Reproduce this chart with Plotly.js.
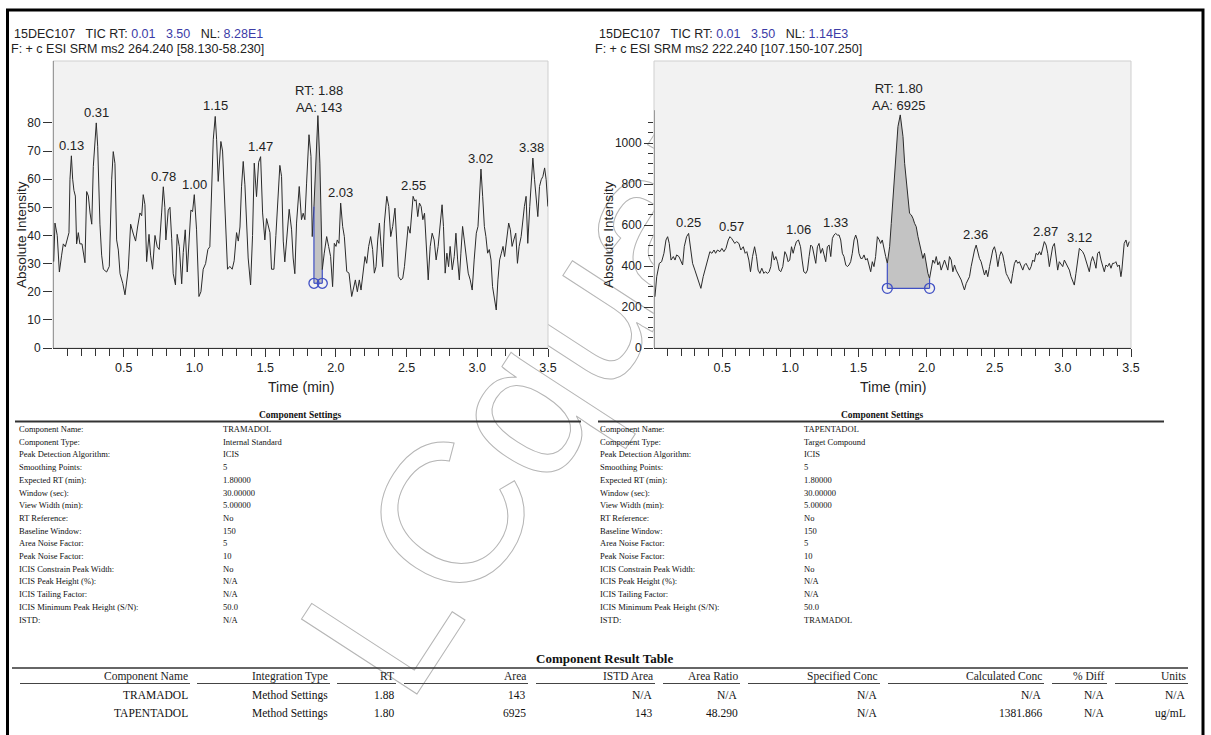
<!DOCTYPE html>
<html>
<head>
<meta charset="utf-8">
<script src="https://cdn.plot.ly/plotly-3.0.1.min.js"></script>
<style>
html,body{margin:0;padding:0;background:#fff;}
#chart{width:1211px;height:735px;}
</style>
</head>
<body>
<div id="chart"></div>
<script>
// ---------------- DATA ----------------
// TRAMADOL chromatogram (SRM 264.240 -> 58.130-58.230)
const tramTime = [0.005,0.014,0.030,0.045,0.061,0.073,0.087,0.101,0.113,0.120,0.130,0.139,0.148,0.158,0.167,0.179,0.190,0.205,0.214,0.226,0.238,0.250,0.262,0.274,0.285,0.295,0.306,0.316,0.332,0.344,0.356,0.379,0.398,0.415,0.426,0.438,0.450,0.462,0.474,0.493,0.509,0.532,0.549,0.568,0.584,0.598,0.615,0.627,0.638,0.650,0.662,0.679,0.690,0.704,0.721,0.737,0.751,0.768,0.780,0.791,0.798,0.815,0.827,0.839,0.850,0.866,0.878,0.893,0.910,0.921,0.935,0.949,0.963,0.975,0.987,0.999,1.015,1.032,1.046,1.062,1.079,1.095,1.109,1.121,1.133,1.147,1.157,1.168,1.180,1.187,1.199,1.211,1.222,1.234,1.250,1.267,1.281,1.298,1.310,1.322,1.333,1.345,1.357,1.369,1.380,1.397,1.411,1.423,1.439,1.454,1.468,1.482,1.498,1.510,1.522,1.534,1.545,1.562,1.576,1.590,1.604,1.616,1.628,1.639,1.656,1.670,1.687,1.698,1.710,1.722,1.741,1.757,1.769,1.781,1.793,1.810,1.824,1.833,1.845,1.860,1.873,1.887,1.904,1.918,1.935,1.949,1.963,1.977,1.989,2.001,2.010,2.022,2.034,2.048,2.060,2.077,2.093,2.112,2.124,2.138,2.152,2.166,2.178,2.192,2.206,2.218,2.232,2.246,2.260,2.272,2.284,2.296,2.308,2.320,2.331,2.343,2.360,2.374,2.388,2.402,2.418,2.430,2.442,2.459,2.473,2.485,2.497,2.511,2.525,2.537,2.546,2.558,2.567,2.579,2.591,2.603,2.615,2.627,2.638,2.653,2.667,2.681,2.695,2.709,2.723,2.737,2.751,2.761,2.773,2.785,2.797,2.808,2.823,2.837,2.849,2.861,2.873,2.884,2.896,2.908,2.922,2.936,2.950,2.964,2.978,2.993,3.005,3.016,3.026,3.038,3.050,3.061,3.073,3.085,3.097,3.108,3.120,3.134,3.146,3.158,3.170,3.182,3.193,3.205,3.222,3.234,3.246,3.258,3.272,3.284,3.296,3.310,3.322,3.333,3.345,3.357,3.371,3.381,3.393,3.405,3.416,3.428,3.440,3.452,3.464,3.476,3.487,3.499];
const tramIntensity = [30.7,44.4,40,27,33,37,36,39,41,60,68.3,60,56,54,37,41,37,37,34,30.3,55.6,54,48,44,64.5,74,80,71.7,44,33,28,27,29,60,69.8,65.6,38.4,34.8,26.4,23,18.9,28,44,40.5,38,43,48,47,54.5,51,30.7,40.4,33,28,40,36,35,48,57.3,50,38.4,49,50,39,26.4,22.4,40.4,36,22.8,34,42,27,40,49,48.5,54.5,42,18.3,20,28,30,35,36,56.5,74,82.3,74,59.2,68,73.4,70,55,45.6,28,29,28,31,41,38,43,57.3,66.3,58,45,32,22.4,40,65.7,53.8,66,68,48,38.4,46,43,41,28,28,40,53,64.9,61,38,30.6,42.6,49.3,42,32,26.4,44.4,57.4,45.6,47.9,45.6,58.6,75.8,68.1,39.6,50.3,71.6,82.6,65.7,27.8,33.7,39.6,36.1,32.5,21.8,37.2,36.1,38.4,37.2,51.5,43.2,39.6,27.2,26.6,18.3,20.6,24.2,20,24.2,20.6,26.6,32.5,30.1,36.1,39.6,35,26.6,28.9,38.4,44.4,36.1,28.9,44.4,53.9,50.3,39.6,43.2,49.7,38.4,25.4,24.2,24.8,28.9,36.1,43.2,40.8,47.9,53.9,52.2,52.7,46.7,51.5,50.3,45.6,47.9,36.1,24.2,36.1,40.8,38.4,31.3,36.1,44.4,50.9,43.2,26.6,33.7,28.9,36.1,27.8,32.5,40.8,31.3,24.2,33.7,43.2,38.4,31.3,26.6,24.2,20.6,31.3,40.8,43.2,55,63.6,53.9,43.2,39.6,33.7,35,31.3,21.8,17.1,13.5,24.2,31.3,33.7,36.1,32.5,38.4,44.4,42,36.1,38.4,40.8,30.1,36.1,39.6,45.6,50.3,53.9,37.2,50.3,59.8,67.5,59.8,52.7,46.7,57.4,59.8,61,64,59.8,50.3];

// TAPENTADOL chromatogram (SRM 222.240 -> 107.150-107.250)
const tapTime = [0.007,0.020,0.039,0.056,0.073,0.088,0.100,0.112,0.125,0.142,0.154,0.166,0.183,0.198,0.210,0.222,0.239,0.254,0.269,0.283,0.300,0.317,0.332,0.344,0.361,0.379,0.393,0.410,0.425,0.440,0.452,0.466,0.484,0.498,0.513,0.528,0.545,0.557,0.569,0.581,0.593,0.606,0.623,0.637,0.655,0.669,0.681,0.696,0.708,0.723,0.738,0.752,0.764,0.777,0.791,0.806,0.818,0.833,0.845,0.857,0.869,0.882,0.894,0.906,0.918,0.930,0.945,0.960,0.972,0.984,0.996,1.009,1.021,1.033,1.045,1.060,1.075,1.087,1.099,1.114,1.126,1.138,1.150,1.162,1.175,1.187,1.199,1.211,1.223,1.236,1.248,1.260,1.272,1.285,1.297,1.309,1.321,1.333,1.346,1.358,1.370,1.382,1.394,1.407,1.419,1.431,1.443,1.455,1.468,1.480,1.492,1.504,1.517,1.529,1.541,1.553,1.565,1.578,1.590,1.602,1.614,1.626,1.639,1.651,1.663,1.675,1.687,1.700,1.712,1.729,1.741,1.753,1.766,1.778,1.790,1.807,1.827,1.839,1.851,1.863,1.875,1.888,1.900,1.912,1.924,1.937,1.949,1.961,1.973,1.985,1.998,2.010,2.022,2.034,2.046,2.059,2.071,2.083,2.095,2.107,2.120,2.132,2.144,2.156,2.168,2.181,2.193,2.205,2.217,2.230,2.242,2.254,2.266,2.278,2.291,2.303,2.315,2.327,2.339,2.352,2.364,2.376,2.388,2.400,2.413,2.425,2.437,2.449,2.462,2.474,2.486,2.498,2.510,2.523,2.535,2.547,2.559,2.571,2.584,2.596,2.608,2.620,2.632,2.645,2.657,2.669,2.681,2.693,2.706,2.718,2.730,2.742,2.755,2.767,2.779,2.791,2.803,2.816,2.828,2.840,2.852,2.864,2.877,2.889,2.901,2.913,2.925,2.938,2.950,2.962,2.974,2.987,2.999,3.011,3.023,3.035,3.048,3.060,3.072,3.084,3.096,3.109,3.121,3.133,3.145,3.157,3.170,3.182,3.194,3.206,3.218,3.231,3.243,3.255,3.267,3.280,3.292,3.304,3.316,3.328,3.341,3.353,3.365,3.377,3.389,3.402,3.414,3.426,3.433,3.443,3.450,3.463,3.475,3.487];
const tapIntensity = [250,348,413,421,462,527,543,510,429,446,429,454,446,421,405,494,543,559,494,413,380,348,315,291,348,397,429,470,462,478,462,478,470,486,470,486,527,543,535,519,510,519,510,478,494,462,470,429,372,446,494,446,380,364,389,364,372,364,372,397,470,429,446,421,380,372,397,470,454,421,429,494,462,494,519,527,494,429,372,364,380,446,502,494,446,413,494,510,462,486,454,421,494,502,446,535,551,559,551,551,527,462,446,405,397,405,421,462,527,551,527,462,437,437,454,429,437,405,372,421,397,446,543,530,510,527,478,446,413,494,608,738,852,982,1080,1137,1031,901,820,738,657,649,633,608,592,543,510,470,437,462,413,364,340,380,429,413,446,405,421,380,413,429,405,380,446,429,372,405,380,364,348,332,307,283,315,332,348,397,446,478,502,462,437,421,389,356,380,348,397,446,478,494,462,397,446,470,454,413,364,348,332,315,364,413,429,413,421,397,380,405,413,397,380,397,429,421,462,454,470,454,486,519,502,462,397,446,494,510,429,380,421,405,397,429,413,397,380,348,324,307,364,429,486,478,470,454,429,397,372,421,446,421,389,462,470,429,397,372,405,397,413,389,413,413,421,397,405,348,380,478,510,527,494,519];

// Peak labels
const tramPeakLabels = [0.13, 0.31, 0.78, 1.00, 1.15, 1.47, 2.03, 2.55, 3.02, 3.38];
const tapPeakLabels = [0.25, 0.57, 1.06, 1.33, 2.36, 2.87, 3.12];
// Integrated peaks
const tramIntegration = {start: 1.845, end: 1.904, baseline: 23, rt: '1.88', area: '143'};
const tapIntegration = {start: 1.712, end: 2.022, baseline: 291, rt: '1.80', area: '6925'};

// Axis tick values / labels
const timeTicks = [0.5, 1.0, 1.5, 2.0, 2.5, 3.0, 3.5];
const timeTickText = ['0.5', '1.0', '1.5', '2.0', '2.5', '3.0', '3.5'];
const timeMinor = [0.1, 0.2, 0.3, 0.4, 0.6, 0.7, 0.8, 0.9, 1.1, 1.2, 1.3, 1.4, 1.6, 1.7, 1.8, 1.9, 2.1, 2.2, 2.3, 2.4, 2.6, 2.7, 2.8, 2.9, 3.1, 3.2, 3.3, 3.4];
const tramYTicks = [0, 10, 20, 30, 40, 50, 60, 70, 80];
const tapYTicks = [0, 200, 400, 600, 800, 1000];
const tapYMinor = [50, 100, 150, 250, 300, 350, 450, 500, 550, 650, 700, 750, 850, 900, 950, 1050, 1100];

// Headers
const tramHeader1 = '15DEC107&nbsp;&nbsp;&nbsp;TIC RT: <span style="color:#3c3ca6">0.01&nbsp;&nbsp;&nbsp;3.50</span>&nbsp;&nbsp;&nbsp;NL: <span style="color:#3c3ca6">8.28E1</span>';
const tramHeader2 = 'F: + c ESI SRM ms2 264.240 [58.130-58.230]';
const tapHeader1 = '15DEC107&nbsp;&nbsp;&nbsp;TIC RT: <span style="color:#3c3ca6">0.01&nbsp;&nbsp;&nbsp;3.50</span>&nbsp;&nbsp;&nbsp;NL: <span style="color:#3c3ca6">1.14E3</span>';
const tapHeader2 = 'F: + c ESI SRM ms2 222.240 [107.150-107.250]';

// Component settings
const settingLabels = ['Component Name:', 'Component Type:', 'Peak Detection Algorithm:', 'Smoothing Points:', 'Expected RT (min):', 'Window (sec):', 'View Width (min):', 'RT Reference:', 'Baseline Window:', 'Area Noise Factor:', 'Peak Noise Factor:', 'ICIS Constrain Peak Width:', 'ICIS Peak Height (%):', 'ICIS Tailing Factor:', 'ICIS Minimum Peak Height (S/N):', 'ISTD:'];
const tramSettings = ['TRAMADOL', 'Internal Standard', 'ICIS', '5', '1.80000', '30.00000', '5.00000', 'No', '150', '5', '10', 'No', 'N/A', 'N/A', '50.0', 'N/A'];
const tapSettings = ['TAPENTADOL', 'Target Compound', 'ICIS', '5', '1.80000', '30.00000', '5.00000', 'No', '150', '5', '10', 'No', 'N/A', 'N/A', '50.0', 'TRAMADOL'];

// Component result table
const resultHeaders = ['Component Name', 'Integration Type', 'RT', 'Area', 'ISTD Area', 'Area Ratio', 'Specified Conc', 'Calculated Conc', '% Diff', 'Units'];
const resultRow1 = ['TRAMADOL', 'Method Settings', '1.88', '143', 'N/A', 'N/A', 'N/A', 'N/A', 'N/A', 'N/A'];
const resultRow2 = ['TAPENTADOL', 'Method Settings', '1.80', '6925', '143', '48.290', 'N/A', '1381.866', 'N/A', 'ug/mL'];

// ---------------- LAYOUT HELPERS ----------------
const W = 1211, H = 735;
const px = x => x / W;
const py = y => 1 - y / H;
const SANS = 'Liberation Sans Narrow, Arial Narrow, Liberation Sans, Arial, sans-serif';
const SERIF = 'Liberation Serif, Times New Roman, serif';
const BLUE = '#4050c4';
const INK = '#2b2b2b';

function peakAt(T, I, t0) {
  let best = -Infinity;
  for (let i = 0; i < T.length; i++) {
    if (Math.abs(T[i] - t0) <= 0.02 && I[i] > best) best = I[i];
  }
  return best;
}
function valueAt(T, I, t0) {
  let bi = 0;
  for (let i = 0; i < T.length; i++) if (Math.abs(T[i] - t0) < Math.abs(T[bi] - t0)) bi = i;
  return I[bi];
}
function region(T, I, a, b, base) {
  const xs = [], ys = [];
  for (let i = 0; i < T.length; i++) {
    if (T[i] >= a - 1e-6 && T[i] <= b + 1e-6) { xs.push(T[i]); ys.push(I[i]); }
  }
  return {x: xs.concat([xs[xs.length - 1], xs[0], xs[0]]), y: ys.concat([base, base, ys[0]])};
}
function txt(x, y, s, o) {
  o = o || {};
  return {xref: 'paper', yref: 'paper', x: px(x), y: py(y), text: s, showarrow: false,
    xanchor: o.xanchor || 'left', yanchor: o.yanchor || 'middle', textangle: o.angle || 0,
    font: {family: o.family || SANS, size: o.size || 13, color: o.color || '#222'}};
}
function hline(x0, x1, y, w, c) {
  return {type: 'line', xref: 'paper', yref: 'paper', x0: px(x0), x1: px(x1), y0: py(y), y1: py(y),
    line: {color: c || '#333', width: w || 1}};
}

// ---------------- TRACES ----------------
const traces = [];
function addChromatogram(T, I, integ, xa, ya) {
  const reg = region(T, I, integ.start, integ.end, integ.baseline);
  traces.push({x: reg.x, y: reg.y, xaxis: xa, yaxis: ya, type: 'scatter', mode: 'lines',
    fill: 'toself', fillcolor: '#c3c3c3', line: {width: 0}, hoverinfo: 'skip'});
  traces.push({x: T, y: I, xaxis: xa, yaxis: ya, type: 'scatter', mode: 'lines',
    line: {color: INK, width: 1}, hoverinfo: 'skip'});
  const vs = valueAt(T, I, integ.start), ve = valueAt(T, I, integ.end);
  traces.push({x: [integ.start, integ.start, null, integ.start, integ.end, null, integ.end, integ.end],
    y: [integ.baseline, vs, null, integ.baseline, integ.baseline, null, integ.baseline, ve],
    xaxis: xa, yaxis: ya, type: 'scatter', mode: 'lines', line: {color: BLUE, width: 1.2}, hoverinfo: 'skip'});
  traces.push({x: [integ.start, integ.end], y: [integ.baseline, integ.baseline], xaxis: xa, yaxis: ya,
    type: 'scatter', mode: 'markers', marker: {symbol: 'circle-open', size: 10, color: BLUE, line: {width: 1.3, color: BLUE}},
    hoverinfo: 'skip'});
}
addChromatogram(tramTime, tramIntensity, tramIntegration, 'x', 'y');
addChromatogram(tapTime, tapIntensity, tapIntegration, 'x2', 'y2');

// ---------------- ANNOTATIONS ----------------
const ann = [];
// watermark
ann.push({xref: 'paper', yref: 'paper', x: px(540), y: py(376), text: 'LCquan', showarrow: false,
  textangle: -57, font: {family: 'Liberation Sans, Arial, sans-serif', size: 200, color: '#bdbdbd'}});

const lblFont = {family: SANS, size: 13, color: '#222'};
tramPeakLabels.forEach(t => ann.push({xref: 'x', yref: 'y', x: t, y: peakAt(tramTime, tramIntensity, t),
  text: t.toFixed(2), showarrow: false, yanchor: 'bottom', yshift: 1, font: lblFont}));
tapPeakLabels.forEach(t => ann.push({xref: 'x2', yref: 'y2', x: t, y: peakAt(tapTime, tapIntensity, t),
  text: t.toFixed(2), showarrow: false, yanchor: 'bottom', yshift: 1, font: lblFont}));
ann.push({xref: 'x', yref: 'y', x: parseFloat(tramIntegration.rt), y: peakAt(tramTime, tramIntensity, parseFloat(tramIntegration.rt)),
  text: 'RT: ' + tramIntegration.rt + '<br>AA: ' + tramIntegration.area, showarrow: false, yanchor: 'bottom', yshift: -1, font: lblFont});
ann.push({xref: 'x2', yref: 'y2', x: parseFloat(tapIntegration.rt), y: peakAt(tapTime, tapIntensity, parseFloat(tapIntegration.rt)),
  text: 'RT: ' + tapIntegration.rt + '<br>AA: ' + tapIntegration.area, showarrow: false, yanchor: 'bottom', yshift: 0, font: lblFont});

// headers
ann.push(txt(12, 34, tramHeader1, {size: 12.5}));
ann.push(txt(9, 49, tramHeader2, {size: 12.5}));
ann.push(txt(597, 34, tapHeader1, {size: 12.5}));
ann.push(txt(593, 49, tapHeader2, {size: 12.5}));
// axis titles
ann.push(txt(21, 235, 'Absolute Intensity', {xanchor: 'center', angle: -90, size: 13.5}));
ann.push(txt(608, 235, 'Absolute Intensity', {xanchor: 'center', angle: -90, size: 13.5}));
ann.push(txt(301, 387, 'Time (min)', {xanchor: 'center', size: 14}));
ann.push(txt(893, 387, 'Time (min)', {xanchor: 'center', size: 14}));

// component settings
const shapes = [];
function settingsBlock(xl, xv, xc, x0, x1, vals) {
  ann.push(txt(xc, 415, '<b>Component Settings</b>', {xanchor: 'center', family: SERIF, size: 9.5, color: '#111'}));
  shapes.push(hline(x0, x1, 421.5, 2, '#333'));
  settingLabels.forEach((l, i) => {
    const y = 429 + i * 12.7;
    ann.push(txt(xl, y, l, {family: SERIF, size: 8.5, color: '#111'}));
    ann.push(txt(xv, y, vals[i], {family: SERIF, size: 8.5, color: '#111'}));
  });
}
settingsBlock(17, 221, 300, 15, 581, tramSettings);
settingsBlock(598, 802, 882, 598, 1164, tapSettings);

// result table
ann.push(txt(604, 658, '<b>Component Result Table</b>', {xanchor: 'center', family: SERIF, size: 13, color: '#111'}));
shapes.push(hline(12, 1188, 668, 1.5, '#333'));
const colRight = [190, 330, 396, 528, 655, 740, 880, 1044, 1107, 1188];
const colLineStart = [20, 197, 337, 404, 536, 663, 748, 888, 1052, 1115];
resultHeaders.forEach((h, i) => {
  ann.push(txt(colRight[i], 676, h, {xanchor: 'right', family: SERIF, size: 11.5, color: '#222'}));
  shapes.push(hline(colLineStart[i], colRight[i], 683.5, 1.2, '#444'));
  ann.push(txt(colRight[i], 695, resultRow1[i], {xanchor: 'right', family: SERIF, size: 11.5, color: '#111'}));
  ann.push(txt(colRight[i], 713, resultRow2[i], {xanchor: 'right', family: SERIF, size: 11.5, color: '#111'}));
});

// panel borders & axis lines
shapes.push({type: 'rect', xref: 'x domain', yref: 'y domain', x0: 0, x1: 1, y0: 0, y1: 1, line: {color: '#cfcfcf', width: 1}, layer: 'below'});
shapes.push({type: 'rect', xref: 'x2 domain', yref: 'y2 domain', x0: 0, x1: 1, y0: 0, y1: 1, line: {color: '#cfcfcf', width: 1}, layer: 'below'});
shapes.push({type: 'line', xref: 'x2', yref: 'y2', x0: 0, x1: 0, y0: 0, y1: 1160, line: {color: '#555', width: 1}});
shapes.push({type: 'line', xref: 'x', yref: 'y domain', x0: 0, x1: 0, y0: 0, y1: 1, line: {color: '#555', width: 1}});
// outer frame
shapes.push({type: 'rect', xref: 'paper', yref: 'paper', x0: px(7.5), x1: px(1203), y0: py(760), y1: py(10), line: {color: '#000', width: 3}});

// ---------------- AXES ----------------
const tickFont = {family: SANS, size: 12.5, color: '#222'};
function xAxis(domain, anchor) {
  return {domain: domain, anchor: anchor, range: [0, 3.5], tickmode: 'array', tickvals: timeTicks, ticktext: timeTickText,
    ticks: 'outside', ticklen: 8, tickwidth: 1, tickcolor: '#333', showline: true, linecolor: '#333', linewidth: 1,
    showgrid: false, zeroline: false, tickfont: tickFont, fixedrange: true,
    minor: {tickmode: 'array', tickvals: timeMinor, ticks: 'outside', ticklen: 7, tickwidth: 1, tickcolor: '#333', showgrid: false}};
}
const yDomain = [py(348), py(61)];
const yTickFont = {family: SANS, size: 12, color: '#222'};
const layout = {
  width: W, height: H, margin: {l: 0, r: 0, t: 0, b: 0}, paper_bgcolor: '#fff', plot_bgcolor: '#f2f2f2',
  showlegend: false, font: {family: SANS, size: 13, color: '#222'},
  xaxis: xAxis([px(53), px(548)], 'y'),
  xaxis2: xAxis([px(654), px(1131)], 'y2'),
  yaxis: {domain: yDomain, anchor: 'x', range: [0, 102], tickmode: 'array', tickvals: tramYTicks,
    ticks: 'outside', ticklen: 9, tickcolor: '#333', showline: false, showgrid: false, zeroline: false, tickfont: yTickFont, fixedrange: true},
  yaxis2: {domain: yDomain, anchor: 'x2', range: [0, 1400], tickmode: 'array', tickvals: tapYTicks,
    ticks: 'outside', ticklen: 9, tickcolor: '#333', showline: false, showgrid: false, zeroline: false, tickfont: yTickFont, fixedrange: true,
    minor: {tickmode: 'array', tickvals: tapYMinor, ticks: 'outside', ticklen: 5, tickcolor: '#333', showgrid: false}},
  annotations: ann,
  shapes: shapes
};

Plotly.newPlot('chart', traces, layout, {staticPlot: true, displayModeBar: false}).then(gd => {
  // watermark: outlined glyphs, placed behind the plot panels
  gd.querySelectorAll('g.annotation').forEach(g => {
    if (g.textContent === 'LCquan') {
      const t = g.querySelector('text');
      t.style.fill = 'none';
      t.style.stroke = '#b5b5b5';
      t.style.strokeWidth = '1';
      const svg = gd.querySelector('.main-svg');
      const ref = svg.querySelector('.bglayer') || svg.querySelector('.layer-below') || svg.querySelector('.cartesianlayer');
      if (ref && ref.parentNode === svg) svg.insertBefore(g, ref);
    }
  });
});
</script>
</body>
</html>
